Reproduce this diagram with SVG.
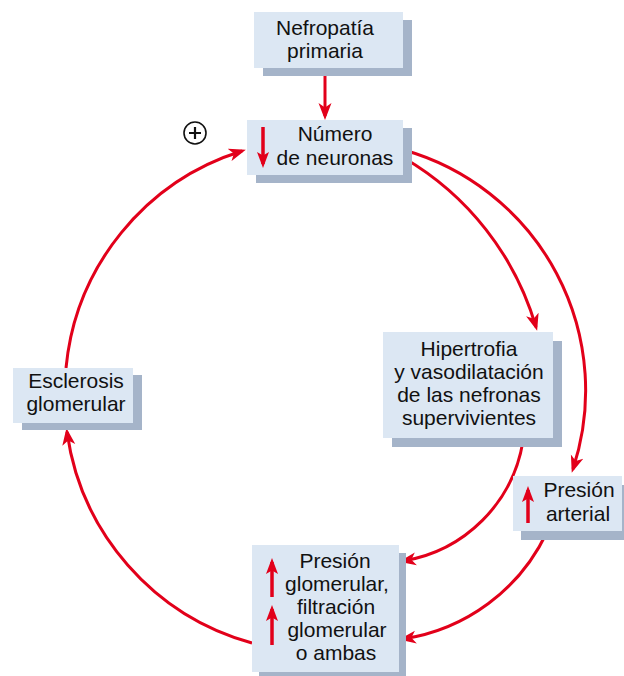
<svg xmlns="http://www.w3.org/2000/svg" width="624" height="676" viewBox="0 0 624 676">
<style>
.box{fill:#dce7f3}
.sh{fill:#a5b4c9}
.t{font-family:"Liberation Sans",Arial,sans-serif;font-size:21px;fill:#111111;text-anchor:middle}
.c{fill:none;stroke:#e2001a;stroke-width:3}
.ci{fill:none;stroke:#e2001a;stroke-width:3.5}
</style>
<defs>
<marker id="ah" markerUnits="userSpaceOnUse" markerWidth="18" markerHeight="14" refX="13" refY="7" orient="auto" viewBox="0 0 18 14">
<path d="M0,0.5 L17,7 L0,13.5 L4.5,7 Z" fill="#e2001a"/>
</marker>
<marker id="ai" markerUnits="userSpaceOnUse" markerWidth="17" markerHeight="13" refX="12" refY="6.5" orient="auto" viewBox="0 0 17 13">
<path d="M0,0.5 L16,6.5 L0,12.5 L3.5,6.5 Z" fill="#e2001a"/>
</marker>
</defs>
<rect width="624" height="676" fill="#ffffff"/>

<g id="connectors">
<path class="c" d="M325,68 L325,116" marker-end="url(#ah)"/>
<path class="c" d="M66,368 A252,252 0 0,1 242,151" marker-end="url(#ah)"/>
<path class="c" d="M252,643 A255,255 0 0,1 67,432" marker-end="url(#ah)"/>
<path class="c" d="M404,150 A250,250 0 0,1 573,469" marker-end="url(#ah)"/>
<path class="c" d="M404,158 A290,290 0 0,1 536,327" marker-end="url(#ah)"/>
<path class="c" d="M523,441 A145,145 0 0,1 403,561" marker-end="url(#ah)"/>
<path class="c" d="M547,532 A190,190 0 0,1 403,639" marker-end="url(#ah)"/>
</g>

<g id="plus">
<circle cx="195" cy="133" r="11" fill="none" stroke="#111" stroke-width="1.6"/>
<path d="M189,133 H201 M195,127 V139" stroke="#111" stroke-width="2.2"/>
</g>

<g id="n1">
<rect class="sh" x="263" y="20" width="149" height="56"/>
<rect class="box" x="254" y="12" width="149" height="56"/>
<text class="t" x="325" y="35">Nefropatía</text>
<text class="t" x="325" y="58">primaria</text>
</g>

<g id="n2">
<rect class="sh" x="256" y="128" width="156" height="55"/>
<rect class="box" x="247" y="120" width="156" height="55"/>
<path class="ci" d="M263,127 L263,164" marker-end="url(#ai)"/>
<text class="t" x="335" y="141">Número</text>
<text class="t" x="335" y="165">de neuronas</text>
</g>

<g id="n3">
<rect class="sh" x="392" y="341" width="170" height="106"/>
<rect class="box" x="383" y="332" width="170" height="106"/>
<text class="t" x="469" y="356">Hipertrofia</text>
<text class="t" x="469" y="379">y vasodilatación</text>
<text class="t" x="469" y="402">de las nefronas</text>
<text class="t" x="469" y="425">supervivientes</text>
</g>

<g id="n4">
<rect class="sh" x="521" y="485" width="110" height="55"/>
<rect class="box" x="513" y="476" width="109" height="55"/>
<path class="ci" d="M528,523 L528,490" marker-end="url(#ai)"/>
<text class="t" x="579" y="497">Presión</text>
<text class="t" x="578" y="521">arterial</text>
</g>

<g id="n5">
<rect class="sh" x="259" y="553" width="147" height="130"/>
<rect class="box" x="252" y="545" width="147" height="127"/>
<path class="ci" d="M272,597 L272,562" marker-end="url(#ai)"/>
<path class="ci" d="M272,645 L272,609" marker-end="url(#ai)"/>
<text class="t" x="335" y="568">Presión</text>
<text class="t" x="337" y="591">glomerular,</text>
<text class="t" x="336" y="614">filtración</text>
<text class="t" x="337" y="637">glomerular</text>
<text class="t" x="336" y="660">o ambas</text>
</g>

<g id="n6">
<rect class="sh" x="22" y="375" width="120" height="55"/>
<rect class="box" x="13" y="368" width="120" height="55"/>
<text class="t" x="76" y="388">Esclerosis</text>
<text class="t" x="76" y="411">glomerular</text>
</g>
</svg>
